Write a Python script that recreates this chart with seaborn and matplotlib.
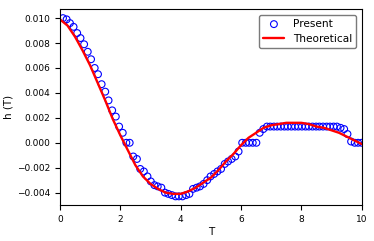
import matplotlib
matplotlib.use('Agg')
import matplotlib.pyplot as plt
import seaborn as sns

t_present = [0.10, 0.22, 0.33, 0.45, 0.57, 0.68, 0.80, 0.92, 1.03, 1.15,
             1.26, 1.38, 1.50, 1.61, 1.73, 1.85, 1.96, 2.08, 2.20, 2.31,
             2.43, 2.55, 2.66, 2.78, 2.90, 3.01, 3.13, 3.24, 3.36, 3.48,
             3.59, 3.71, 3.83, 3.94, 4.06, 4.18, 4.29, 4.41, 4.53, 4.64,
             4.76, 4.88, 4.99, 5.11, 5.22, 5.34, 5.46, 5.57, 5.69, 5.81,
             5.92, 6.04, 6.16, 6.27, 6.39, 6.51, 6.62, 6.74, 6.86, 6.97,
             7.09, 7.20, 7.32, 7.44, 7.55, 7.67, 7.79, 7.90, 8.02, 8.14,
             8.25, 8.37, 8.49, 8.60, 8.72, 8.84, 8.95, 9.07, 9.18, 9.30,
             9.42, 9.53, 9.65, 9.77, 9.88, 10.00]
h_present = [0.0100, 0.0099, 0.0096, 0.0093, 0.0088, 0.0084, 0.0079, 0.0073, 0.0067, 0.0060,
             0.0055, 0.0047, 0.0041, 0.0034, 0.0026, 0.0021, 0.0013, 0.0008, 0.0000, 0.0000,
             -0.0011, -0.0013, -0.0021, -0.0023, -0.0027, -0.0031, -0.0034, -0.0035, -0.0036, -0.0040,
             -0.0041, -0.0042, -0.0043, -0.0043, -0.0043, -0.0042, -0.0041, -0.0037, -0.0036, -0.0035,
             -0.0033, -0.0030, -0.0027, -0.0025, -0.0023, -0.0021, -0.0017, -0.0015, -0.0013, -0.0011,
             -0.0007, 0.0000, 0.0000, 0.0000, 0.0000, 0.0000, 0.0008, 0.0011, 0.0013, 0.0013,
             0.0013, 0.0013, 0.0013, 0.0013, 0.0013, 0.0013, 0.0013, 0.0013, 0.0013, 0.0013,
             0.0013, 0.0013, 0.0013, 0.0013, 0.0013, 0.0013, 0.0013, 0.0013, 0.0013, 0.0012,
             0.0011, 0.0007, 0.0001, 0.0000, 0.0000, 0.0000]

# theoretical curve
t_theory = [0.00, 0.25, 0.50, 0.75, 1.00, 1.25, 1.50, 1.75, 2.00, 2.25,
            2.50, 2.75, 3.00, 3.25, 3.50, 3.75, 4.00, 4.25, 4.50, 4.75,
            5.00, 5.25, 5.50, 5.75, 6.00, 6.25, 6.50, 6.75, 7.00, 7.25,
            7.50, 7.75, 8.00, 8.25, 8.50, 8.75, 9.00, 9.25, 9.50, 9.75, 10.00]
h_theory = [0.0099, 0.0094, 0.0085, 0.0074, 0.0062, 0.0048, 0.0034, 0.0019, 0.0006, -0.0006,
            -0.0018, -0.0027, -0.0033, -0.0037, -0.0040, -0.0041, -0.0041, -0.0039, -0.0036, -0.0032,
            -0.0028, -0.0022, -0.0015, -0.0009, -0.0002, 0.0004, 0.0008, 0.0012, 0.0014, 0.0015,
            0.0016, 0.0016, 0.0016, 0.0015, 0.0013, 0.0012, 0.0010, 0.0008, 0.0005, 0.0002, -0.0001]

x_ticks = [0, 2, 4, 6, 8, 10]
y_ticks = [-0.004, -0.002, 0.000, 0.002, 0.004, 0.006, 0.008, 0.010]

sns.set_style('ticks', {'axes.edgecolor': 'black', 'xtick.color': 'black',
                        'ytick.color': 'black', 'text.color': 'black',
                        'axes.labelcolor': 'black'})
plt.rcParams['font.family'] = 'DejaVu Sans'

fig = plt.figure(figsize=(3.74, 2.41), dpi=100)
ax = fig.add_axes([0.1604, 0.149, 0.8066, 0.812])

sns.scatterplot(x=t_present, y=h_present, ax=ax, marker='o', s=24,
                facecolor='none', edgecolor='b', linewidth=0.8, label='Present')
sns.lineplot(x=t_theory, y=h_theory, ax=ax, color='r', lw=1.7, label='Theoretical')

ax.set_xlim(0, 10)
ax.set_ylim(-0.005, 0.0107)
ax.set_xticks(x_ticks)
ax.set_yticks(y_ticks)
ax.set_xlabel('T', fontsize=7.5, labelpad=2)
ax.set_ylabel('h (T)', fontsize=7.5, labelpad=2.5)
ax.tick_params(labelsize=6.5, length=3.5, width=0.8)
for sp in ax.spines.values():
    sp.set_linewidth(0.8)

ax.legend(loc='upper right', fontsize=7.6, edgecolor='0.35', fancybox=True)

fig.savefig('out.png', dpi=100)
